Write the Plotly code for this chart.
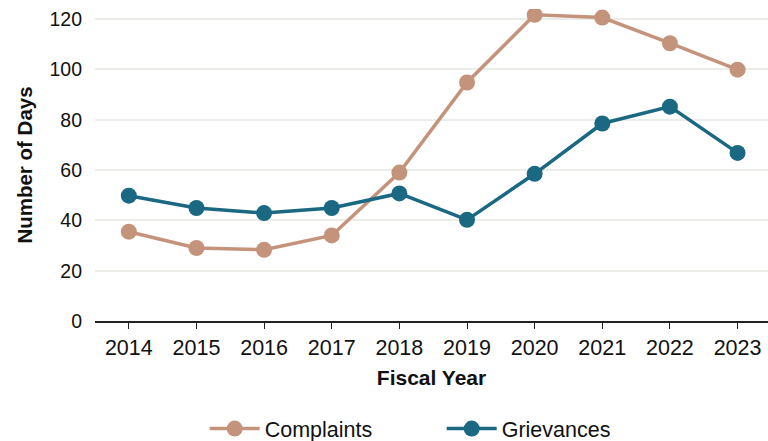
import plotly.graph_objects as go

years = ["2014", "2015", "2016", "2017", "2018", "2019", "2020", "2021", "2022", "2023"]
complaints = [35.5, 29, 28.3, 34, 59, 94.8, 121.7, 120.6, 110.4, 99.9]
grievances = [49.8, 44.9, 42.9, 44.9, 50.7, 40.2, 58.5, 78.5, 85.2, 66.8]

FONT = "Liberation Sans, Arial, sans-serif"
C_COMP = "#C4937B"
C_GRIEV = "#1A6882"

fig = go.Figure()
fig.add_trace(go.Scatter(x=years, y=complaints, name="Complaints", mode="lines+markers",
                         line=dict(color=C_COMP, width=3.5),
                         marker=dict(color=C_COMP, size=16)))
fig.add_trace(go.Scatter(x=years, y=grievances, name="Grievances", mode="lines+markers",
                         line=dict(color=C_GRIEV, width=3.5),
                         marker=dict(color=C_GRIEV, size=16)))

fig.update_layout(
    width=768, height=441,
    margin=dict(l=95, r=0, t=9, b=120, autoexpand=False),
    paper_bgcolor="white", plot_bgcolor="white",
    font=dict(family=FONT, size=19, color="#111111"),
    xaxis=dict(type="category", range=[-0.5, 9.45], showgrid=False, automargin=False,
               showline=True, linecolor="#222222", linewidth=1.5,
               ticks="outside", ticklen=6, tickcolor="#222222",
               tickfont=dict(size=21.5),
               title=dict(text="<b>Fiscal Year</b>", font=dict(size=21), standoff=12)),
    yaxis=dict(range=[0, 124], tickvals=[0, 20, 40, 60, 80, 100, 120], automargin=False,
               showgrid=True, gridcolor="#ECECE8", gridwidth=2,
               zeroline=False, showline=False, ticks="", ticklabelstandoff=12,
               tickfont=dict(size=19.5),
               title=dict(text="<b>Number of Days</b>", font=dict(size=20.5), standoff=11)),
    legend=dict(orientation="h", x=0.163, xanchor="left", y=-0.345, yanchor="middle",
                font=dict(size=21.5), itemwidth=50, entrywidth=172),
    showlegend=True,
)

fig.write_html("out.html", config={"displayModeBar": False},
               post_script="document.body.style.margin='0';")
